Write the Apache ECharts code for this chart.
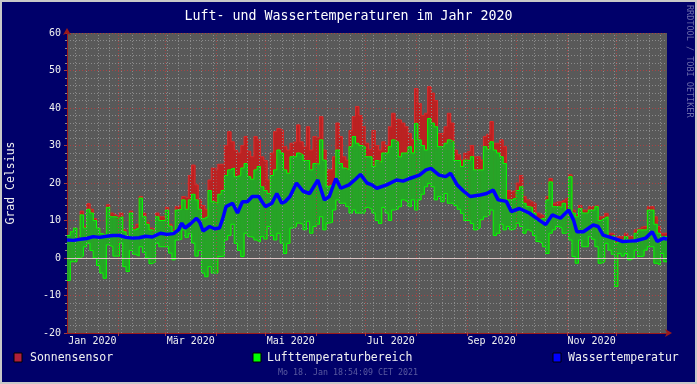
<!DOCTYPE html>
<html><head><meta charset="utf-8">
<script src="https://cdn.jsdelivr.net/npm/echarts@6/dist/echarts.min.js"></script>
<style>html,body{margin:0;padding:0;background:#00006a}#c{width:697px;height:384px}</style>
</head><body><div id="c"></div><script>
// 2-day bins through 2020 (bin k starts at day 2k)
const airMax = [
6,7,8,5,11.5,8,13,12,10,8,
6.5,6,13.5,11,11,10.5,11,7,5.5,12,
7.5,8,16,11,9,7.5,7,11,10,10,
12.8,8.5,7,12.8,13,15.5,13,15.5,17,15.5,
13,10.5,11,18,15,14.6,17,
18,22,23.5,24,21.7,22,24,25.2,21.7,21,
23.5,24.4,19,18,17.2,22,23.5,28.8,28,23.5,
22.6,27,27,28,27.5,26,26,23.5,25.2,25,
31.5,26.1,19,19.5,20,28.8,25.2,24,23.5,29.7,
32.4,30.6,30,29.7,27,27,24.4,26,25.5,28,
28,29.7,31.5,31,27,28,28,29.7,28,35.9,
31.5,30,28.8,37.2,36,35,29.7,29.7,30.6,31.5,
31,26,26,24.4,26.1,26,27,23.5,23.5,23.5,
29.7,29,31,28.8,28,27,25.2,15.5,15.5,16,
18,19,14.6,13.7,13.5,12,10,10.5,10.6,15.5,
20.3,13.7,13.7,13.5,14.6,12.8,21.7,12,11,13.2,
12,12,12.8,12.8,13.7,10,10.5,11,5.7,6,
4,4.8,4.8,5.7,4.8,5,6.6,7.5,7.5,7.5,
12.8,12.8,9,6.6,5.7,5.7];
const airMin = [
-6,-1,-1,0,0.5,3,4,2,0,-2,
-4,-5.4,3.5,3,0.5,0.5,4,-2.3,-3.6,2,
1,0.5,3,1.5,0,-1.5,-1,4,3,3,
3,1.3,-0.5,4.8,5,7.5,5.5,6.5,4,0.5,
2,-4,-5,-2.3,-4,-4,0.4,
0.5,4.8,6,9,3.9,2,0.4,6.6,5.7,5.5,
4.8,4.3,5.7,5,8.4,6,4.8,6.6,4,1.2,
3.9,8,8.4,9.3,9,7.5,9.8,6.6,8.4,9,
11,7.5,9.3,9.5,12.8,15.5,14.6,14.6,13.7,12,
12.8,12,12,12,13.5,13,12,10,9.2,13.5,
12,10,12.8,13,13.7,15.5,15,13.7,15.5,12.8,
15.5,17,19,19.9,19,15.5,16.4,15,17.2,14.6,
14.6,14,13,11.9,10,10,9.2,7.5,8,10.2,
11,11.5,12.8,6,6.6,9,7.5,8.4,7.5,8,
9.3,8.4,6.6,7.5,7,6,4.4,4,3,1.2,
6.6,7.5,8.4,8,6.6,6.6,4.8,0.4,-1.4,4.8,
3,3,5.7,5,3,-1.4,-1,3.9,2.1,1,
-7.6,1.2,0.5,1.2,-0.5,0,2.1,0.4,0.5,2.1,
3,3,-1.4,-1.8,1.2,-1];
const sunSensor = [
6,7,8,5.5,12.5,8.5,14.5,13,10.5,8,
6.5,6,14.2,12,11.5,11,12,7.5,5.5,12.5,
8,9,16.4,12,9.5,8,7.5,12,11,11,
13.5,9,7.5,13.7,14,16.4,16,22,24.8,19.5,
15.5,14,13,20.8,24,23.5,25,
25,30,33.7,31,28.8,28,30,32.4,28.5,27,
32.4,31.5,27,26,20.8,28,33.7,34.5,34,29.7,
28.8,30.6,31,35.5,31,29.7,35,28.8,32.4,32,
37.7,28.8,23.5,23.5,27,36,32.4,27,26.1,34,
37.7,40.4,38,35,30.6,29,34,30,28.8,31,
30,35,38.6,37,36.8,36,35,33.2,31.5,45.2,
41.2,38,38.6,45.7,44,42,33.2,33.2,35,38.6,
36,28.8,27.5,26.1,28,28.5,30,27,27,26.1,
32.4,33,36.4,30.6,30.6,31.5,29.7,18,17.7,18,
20,22,16.4,15.5,15,14.6,12,11.5,11,16.4,
21.2,14.6,15,15,15.5,16,22.2,12.8,11.5,14,
12.8,12.8,13.7,13.7,14,11,11,11.9,6.6,6.6,
4.8,5.7,5.7,6.6,5.7,5.7,7.5,7.9,8.4,8.4,
13.7,13.7,11,8.4,6.6,6.6];
const waterDays = [0,4,8,12,16,20,24,28,32,36,
40,44,48,52,57,61,65,68,70,72,
75,79,81,83,87,90,93,95,97,101,
104,107,110,113,117,119,121,125,128,131,
133,136,140,144,148,153,157,160,164,167,
172,176,179,183,186,189,195,201,205,209,
215,219,222,227,231,234,238,242,246,252,
256,260,263,268,271,276,282,288,292,296,
301,306,309,311,315,321,324,327,333,339,
343,347,353,357,360,364,366];
const waterTemp = [4.8,4.7,5.0,5.2,5.7,5.5,5.8,6.0,6.0,5.5,
5.3,5.4,5.8,5.6,6.6,6.3,6.5,7.5,9.3,8.0,
9.0,10.6,9.5,7.2,8.4,7.8,8.0,10.5,13.7,14.6,
12.0,15.0,15.0,16.4,16.4,15.0,13.7,14.6,17.2,14.6,
15.0,16.4,20.0,17.8,17.2,20.8,15.5,16.4,21.2,18.6,
19.5,21.0,22.3,20.0,19.5,18.6,19.5,20.8,20.5,21.2,
22.1,23.5,23.9,22.1,21.7,22.6,19.5,17.8,16.4,16.8,
17.2,18.1,15.5,15.1,12.4,13.2,12.0,10.1,8.9,11.5,
10.6,12.8,10.1,7.0,7.0,8.8,8.4,6.1,5.3,4.4,
4.5,4.6,5.3,7.0,4.4,5.3,5.0];
const monthStarts = [0,31,60,91,121,152,182,213,244,274,305,335,366];
const monthLabels = ['Jan 2020','Mär 2020','Mai 2020','Jul 2020','Sep 2020','Nov 2020'];
const labelMonthIdx = [0,2,4,6,8,10];

const FONT = 'DejaVu Sans Mono';
const BIN = 2, DAYS = 366;
function steps(arr){ const d = arr.map((v,i)=>[i*BIN, v]); d.push([DAYS, arr[arr.length-1]]); return d; }
function ranges(lo, hi){ return lo.map((v,i)=>[i*BIN, Math.min(i*BIN+BIN, DAYS), v, hi[i]]); }
const labelPos = labelMonthIdx.map(m => (monthStarts[m]+monthStarts[m+1])/2);
const weekLines = []; for (let d = 5; d < DAYS; d += 7) weekLines.push({xAxis: d});
const monthLines = monthStarts.slice(1, 12).map(d => ({xAxis: d}));

function rangeRenderer(fill){
  return function(params, api){
    const p0 = api.coord([api.value(0), api.value(3)]);
    const p1 = api.coord([api.value(1), api.value(2)]);
    return {type:'rect', shape:{x:p0[0], y:p0[1], width:p1[0]-p0[0]+0.6, height:p1[1]-p0[1]},
      style:{fill:fill}};
  };
}

const chart = echarts.init(document.getElementById('c'), null, {renderer:'canvas'});
chart.setOption({
  animation:false,
  backgroundColor:'#00006a',
  title:{text:'Luft- und Wassertemperaturen im Jahr 2020', left:'center', top:5,
    textStyle:{color:'#ffffff', fontFamily:FONT, fontSize:13.3, fontWeight:'normal'}},
  grid:{left:67, right:30, top:33, bottom:51, show:true, backgroundColor:'#595959', borderWidth:0},
  xAxis:{type:'value', min:0, max:DAYS,
    axisLine:{show:true, onZero:false, lineStyle:{color:'#9a1a1a', width:1}, symbol:['none','arrow'], symbolSize:[6,7], symbolOffset:[0,5]},
    axisTick:{show:true, customValues: monthStarts.slice(1,12), length:3, lineStyle:{color:'#a04040'}},
    axisLabel:{customValues: labelPos, formatter:(v)=>{const i = labelPos.indexOf(v); return i>=0?monthLabels[i]:'';},
      color:'#f0f0f0', fontFamily:FONT, fontSize:10, margin:3},
    splitLine:{show:false}},
  yAxis:{type:'value', min:-20, max:60, interval:10,
    axisLine:{show:true, lineStyle:{color:'#9a1a1a', width:1}, symbol:['none','arrow'], symbolSize:[6,7], symbolOffset:[0,5]},
    axisTick:{show:true, length:3, lineStyle:{color:'#a04040'}},
    minorTick:{show:true, splitNumber:5, length:2, lineStyle:{color:'#8a8a8a'}},
    axisLabel:{color:'#f0f0f0', fontFamily:FONT, fontSize:10, margin:6},
    splitLine:{show:true, lineStyle:{color:'#a84444', type:[1,2], width:1}},
    minorSplitLine:{show:true, lineStyle:{color:'#8c8c8c', type:[1,2], width:1}}},
  series:[
    {type:'line', name:'grid', data:[], z:1, silent:true,
      markLine:{silent:true, symbol:'none', label:{show:false}, animation:false,
        data: weekLines.map(o=>Object.assign({lineStyle:{color:'#8c8c8c', type:[1,2], width:1}}, o))
          .concat(monthLines.map(o=>Object.assign({lineStyle:{color:'#a84444', type:[1,2], width:1}}, o)))}},
    {type:'custom', name:'Sonnensensor', z:2, renderItem:rangeRenderer('#bb2222'),
      encode:{x:[0,1], y:[2,3]}, data:ranges(airMin, sunSensor), clip:true},
    {type:'line', name:'sunTop', data:steps(sunSensor), step:'end', symbol:'none', z:2,
      lineStyle:{width:1, color:'#dd2a2a'}},
    {type:'custom', name:'Lufttemperaturbereich', z:3, renderItem:rangeRenderer('#27a427'),
      encode:{x:[0,1], y:[2,3]}, data:ranges(airMin, airMax), clip:true},
    {type:'line', name:'maxLine', data:steps(airMax), step:'end', symbol:'none', z:4,
      lineStyle:{width:1, color:'#00ff00'}},
    {type:'line', name:'minLine', data:steps(airMin), step:'end', symbol:'none', z:4,
      lineStyle:{width:1, color:'#00ff00'}},
    {type:'line', name:'zero', data:[], z:5, silent:true,
      markLine:{silent:true, symbol:'none', label:{show:false}, animation:false,
        data:[{yAxis:0, lineStyle:{color:'#dcc4c4', type:'solid', width:1}}]}},
    {type:'line', name:'Wassertemperatur', data:waterDays.map((d,i)=>[d, waterTemp[i]]), symbol:'none', z:6,
      lineStyle:{width:3.5, color:'#0000ff'}}
  ],
  graphic:[
    {type:'text', x:11, y:183, rotation:Math.PI/2, style:{text:'Grad Celsius', fill:'#f0f0f0', font:'11.5px "DejaVu Sans Mono"', align:'center', verticalAlign:'middle'}},
    {type:'text', x:689, y:5, rotation:-Math.PI/2, style:{text:'RRDTOOL / TOBI OETIKER', fill:'#6a6aaa', font:'8.5px "DejaVu Sans Mono"', align:'left', verticalAlign:'middle'}},
    {type:'rect', shape:{x:14, y:353, width:8, height:9}, style:{fill:'#b0203a', stroke:'#000000', lineWidth:1}},
    {type:'text', x:30, y:358, style:{text:'Sonnensensor', fill:'#f0f0f0', font:'11.5px "DejaVu Sans Mono"', verticalAlign:'middle'}},
    {type:'rect', shape:{x:253, y:353, width:8, height:9}, style:{fill:'#00ff00', stroke:'#000000', lineWidth:1}},
    {type:'text', x:267, y:358, style:{text:'Lufttemperaturbereich', fill:'#f0f0f0', font:'11.5px "DejaVu Sans Mono"', verticalAlign:'middle'}},
    {type:'rect', shape:{x:553, y:353, width:8, height:9}, style:{fill:'#0000ff', stroke:'#000000', lineWidth:1}},
    {type:'text', x:568, y:358, style:{text:'Wassertemperatur', fill:'#f0f0f0', font:'11.5px "DejaVu Sans Mono"', verticalAlign:'middle'}},
    {type:'text', x:348, y:373, style:{text:'Mo 18. Jan 18:54:09 CET 2021', fill:'#5a5aa0', font:'8.3px "DejaVu Sans Mono"', align:'center', verticalAlign:'middle'}},
    {type:'rect', z:100, shape:{x:1, y:1, width:695, height:382}, style:{fill:'none', stroke:'#c8c8c8', lineWidth:2}}
  ]
});
</script></body></html>
